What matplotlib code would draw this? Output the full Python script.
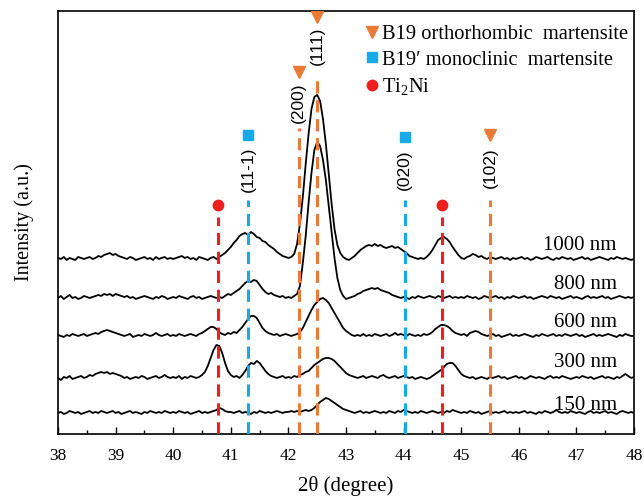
import numpy as np
import matplotlib
matplotlib.use("Agg")
import matplotlib.pyplot as plt
from matplotlib.lines import Line2D

plt.rcParams["mathtext.fontset"] = "custom"
plt.rcParams["mathtext.rm"] = "Liberation Serif"
plt.rcParams["mathtext.it"] = "Liberation Serif:italic"

# 2theta grid (0.05 deg step)
two_theta = np.round(np.arange(38.0, 48.0001, 0.05), 2)

# Intensities (a.u., above each curve's own baseline)
i_1000 = [1,0,2,-1,1,0,-1,2,1,0,1,2,0,1,3,2,4,5,6,4,
          5,3,2,1,0,2,1,-1,0,1,2,0,1,-1,2,0,1,2,0,1,
          0,1,2,3,1,2,0,1,-1,2,1,0,-1,1,2,0,2,4,6,9,
          12,16,19,23,25,26,24,27,25,22,21,18,17,14,12,10,7,5,3,2,
          1,2,5,15,35,62,95,125,150,162,164,158,140,115,85,55,30,14,6,2,
          0,-1,1,3,6,9,11,13,14,13,15,13,14,12,11,12,13,11,12,10,
          8,6,3,2,1,0,1,0,2,5,9,14,19,21,22,20,17,12,8,4,
          1,0,2,3,5,4,2,3,1,0,2,1,0,1,2,0,1,-1,1,0,
          1,2,0,1,-1,0,2,1,0,1,2,0,-1,1,0,2,1,0,1,-1,
          0,1,2,0,1,-1,0,1,2,1,0,-1,1,0,2,1,0,1,0,-1,
          0]
i_800 = [0,2,-1,1,3,0,1,-1,0,2,1,0,1,2,3,2,4,3,4,2,
         4,3,2,1,2,0,1,-1,0,1,2,1,0,-1,1,0,2,1,-1,0,
         1,0,2,1,0,-1,1,2,0,1,-1,0,1,2,1,0,1,0,2,4,
         3,5,7,9,12,15,17,16,18,17,13,9,6,4,5,3,2,1,2,0,
         1,0,2,4,12,35,62,95,125,148,156,152,138,118,92,65,40,20,8,2,
         -1,0,1,2,4,5,7,8,9,10,9,10,8,7,6,5,3,2,1,0,
         1,0,-1,1,0,2,1,0,1,2,1,0,2,1,0,1,2,0,1,0,
         1,0,2,1,0,1,-1,0,2,1,0,1,2,0,1,-1,1,0,2,1,
         0,1,2,0,1,-1,0,1,2,1,0,2,1,0,1,-1,0,1,2,0,
         1,0,-1,1,2,0,1,0,1,2,0,1,-1,0,1,2,1,0,1,0,
         1]
i_600 = [1,0,-1,1,0,2,1,0,1,2,0,1,2,3,2,4,5,6,5,4,
         3,2,1,0,1,2,-1,0,1,0,2,1,0,1,3,1,0,1,2,0,
         1,0,2,1,0,1,2,1,0,2,3,5,7,9,9,7,4,2,1,3,
         2,4,3,6,9,13,17,20,20,18,13,8,5,3,2,1,2,0,1,2,
         1,0,1,2,4,8,14,20,26,31,34,37,38,36,33,28,23,18,13,8,
         5,3,1,0,1,0,2,0,1,0,2,1,0,1,2,0,1,3,1,2,
         1,0,2,1,0,1,0,2,1,2,4,7,9,11,11,10,8,5,3,2,
         1,2,0,3,4,5,4,2,1,0,1,2,0,1,-1,0,1,2,0,1,
         0,1,2,1,0,-1,1,0,2,1,0,1,2,0,1,0,2,1,0,1,
         2,0,1,-1,0,1,2,0,1,0,1,2,1,0,-1,1,0,2,1,0,
         0]
i_300 = [0,-2,1,0,2,-1,0,1,2,0,1,3,2,4,5,6,5,6,4,5,
         4,3,2,0,1,-1,0,1,0,2,1,-1,0,1,2,0,1,3,1,0,
         1,0,2,-1,1,0,2,1,0,1,3,6,12,20,28,33,32,25,15,7,
         3,1,2,0,3,7,12,15,14,17,15,11,7,4,2,1,0,1,2,0,
         1,0,2,1,3,4,6,7,10,13,15,17,19,20,20,19,17,14,11,8,
         5,3,2,1,0,1,2,0,1,2,1,0,2,3,1,0,1,2,0,1,
         2,1,0,1,-1,0,1,0,-1,0,2,4,6,8,11,14,15,15,12,8,
         4,2,1,0,1,-1,0,1,0,-1,1,0,1,2,0,1,-1,0,1,2,
         0,1,-1,0,2,1,0,1,0,-1,1,2,0,1,0,2,1,0,-1,0,
         1,0,2,1,0,1,-1,0,1,2,0,1,0,-1,1,0,2,4,2,0,
         1]
i_150 = [0,1,-1,0,2,1,0,1,-1,0,1,2,0,1,0,2,1,0,1,2,
         0,1,-1,0,1,2,0,1,0,-1,1,0,2,1,0,1,0,2,1,0,
         1,0,2,1,0,1,-1,0,1,2,0,1,0,1,2,3,5,4,2,1,
         1,0,1,2,0,1,0,-1,1,0,2,1,0,1,0,1,2,1,0,1,
         1,2,1,2,1,2,3,2,3,5,8,11,13,15,14,12,10,8,6,4,
         3,2,1,0,1,2,0,1,0,1,2,1,0,1,0,2,1,0,2,1,
         3,2,1,0,1,0,2,1,0,1,2,1,0,1,0,2,1,3,2,1,
         0,1,0,2,1,0,1,-1,0,1,2,0,1,0,1,2,0,1,0,1,
         0,1,2,0,1,0,-1,1,0,2,1,0,1,3,1,0,1,0,2,1,
         0,1,0,-1,1,2,0,1,0,1,2,0,1,0,-1,1,2,1,0,1,
         0]

samples = ["150 nm", "300 nm", "600 nm", "800 nm", "1000 nm"]
series = [i_150, i_300, i_600, i_800, i_1000]
offsets = [19, 54, 96, 134, 173]
label_y = [26, 69, 109, 147, 186]

# Reference peak positions
ortho_pos = [42.18, 42.50, 45.50]
ortho_hkl = ["(200)", "(111)", "(102)"]
mono_pos = [41.30, 44.02]
mono_hkl = ["(11-1)", "(020)"]
ti2ni_pos = [40.77, 44.66]

c_orange = "#ea7a35"
c_blue = "#18a9e8"
c_red = "#f01e1e"

serif = ["Liberation Serif", "DejaVu Serif"]

fig = plt.figure(figsize=(6.44, 4.97), dpi=100)
ax = fig.add_axes([0.0901, 0.1268, 0.8944, 0.8511])

for name, vals, off, ly in zip(samples, series, offsets, label_y):
    ax.plot(two_theta, np.array(vals) + off, color="black", lw=1.3, zorder=2)
    ax.text(47.7, ly, name, ha="right", va="center", fontsize=15, family=serif)

dash = (0, (4.0, 2.2))
# Ti2Ni
for p in ti2ni_pos:
    ax.plot([p, p], [-2, 215], color=c_red, lw=2.2, ls=dash, zorder=3)
    ax.plot(p, 227, marker="o", ms=7.5, color=c_red, mec=c_red, zorder=4)
# B19' monoclinic
mono_line_top = [232, 232]
mono_mark = [297, 295]
mono_lab = [263, 262]
for p, h, lt, mk, lb in zip(mono_pos, mono_hkl, mono_line_top, mono_mark, mono_lab):
    ax.plot([p, p], [-2, lt], color=c_blue, lw=2.2, ls=dash, zorder=3)
    ax.plot(p, mk, marker="s", ms=7.5, color=c_blue, mec=c_blue, zorder=4)
    ax.text(p, lb, h, rotation=90, ha="center", va="center", fontsize=12.5,
            family="Liberation Sans")
# B19 orthorhombic
ortho_line_top = [304, 354, 232]
ortho_mark = [360, 415, 297]
ortho_lab = [329, 386, 264]
for p, h, lt, mk, lb in zip(ortho_pos, ortho_hkl, ortho_line_top, ortho_mark, ortho_lab):
    ax.plot([p, p], [-2, lt], color=c_orange, lw=2.2, ls=dash, zorder=3)
    ax.plot(p, mk, marker="v", ms=8.5, color=c_orange, mec=c_orange, zorder=4)
    ax.text(p, lb, h, rotation=90, ha="center", va="center", fontsize=12.5,
            family="Liberation Sans")

ax.set_xlim(38, 48)
ax.set_ylim(-2, 421)
ax.set_yticks([])
ax.set_xticks(np.arange(38, 49, 1))
ax.set_xticks(np.arange(38.5, 48, 1), minor=True)
ax.tick_params(axis="x", which="major", direction="in", length=5, width=1,
               labelsize=12.5, pad=10)
ax.tick_params(axis="x", which="minor", direction="in", length=3, width=1)
for lab in ax.get_xticklabels():
    lab.set_family(serif)
for s in ax.spines.values():
    s.set_linewidth(1.2)

ax.set_xlabel("2θ (degree)", fontsize=15, family=serif, labelpad=9)
ax.set_ylabel("Intensity (a.u.)", fontsize=14.5, family=serif, labelpad=17)

handles = [
    Line2D([], [], ls="none", marker="v", ms=8.5, color=c_orange),
    Line2D([], [], ls="none", marker="s", ms=7.5, color=c_blue),
    Line2D([], [], ls="none", marker="o", ms=7.5, color=c_red),
]
labels = ["B19 orthorhombic  martensite", "B19\u2032 monoclinic  martensite", "Ti$_2$Ni"]
ax.legend(handles, labels, loc="upper right", bbox_to_anchor=(1.012, 0.997), frameon=False,
          handlelength=0.6, handletextpad=0.2, labelspacing=0.3, borderaxespad=0.2,
          prop={"family": serif, "size": 14.8})

fig.savefig("out.png", dpi=100)
